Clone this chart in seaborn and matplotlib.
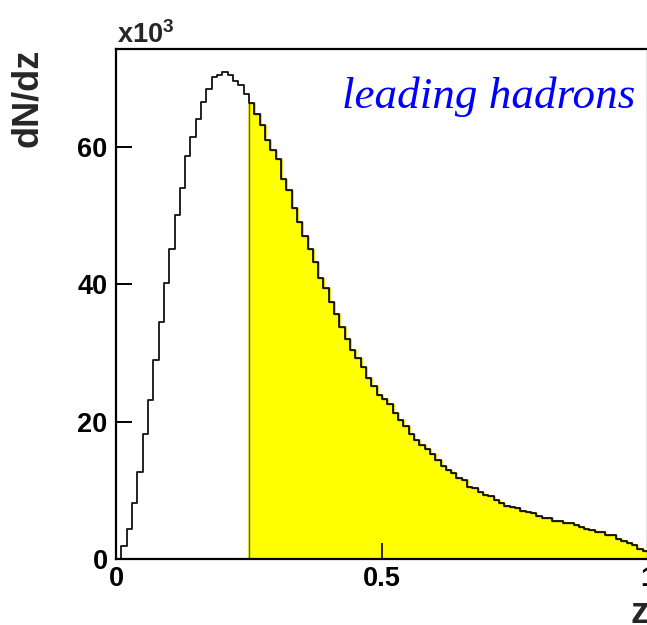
import numpy as np
import pandas as pd
import matplotlib
matplotlib.use("Agg")
import matplotlib.pyplot as plt
import seaborn as sns

# ---- data (dN/dz in units of 10^3, 100 bins of z from 0 to 1) ----
z_min, z_max, n_bins = 0.0, 1.0, 100
z_cut = 0.25
counts = [
    0.0, 1.9, 4.4, 8.1, 12.7, 18.2, 23.1, 29.0, 34.5, 40.2,
    45.1, 50.1, 54.1, 58.7, 61.5, 64.1, 66.6, 68.4, 70.2, 70.5,
    71.0, 70.5, 69.7, 69.0, 67.8, 66.5, 64.9, 63.3, 61.1, 59.6,
    58.3, 55.4, 53.7, 51.2, 49.1, 47.1, 45.1, 43.3, 41.0, 39.5,
    37.5, 35.7, 33.8, 32.1, 30.5, 29.3, 27.9, 26.3, 25.2, 23.9,
    23.3, 22.6, 21.2, 20.2, 19.4, 18.2, 17.4, 16.6, 16.0, 15.3,
    14.4, 13.5, 12.9, 12.5, 11.8, 11.5, 10.5, 10.4, 9.7, 9.3,
    9.2, 8.6, 8.1, 7.7, 7.6, 7.5, 7.0, 6.9, 6.7, 6.3,
    6.0, 6.0, 5.6, 5.6, 5.3, 5.3, 4.9, 4.6, 4.4, 4.2,
    4.0, 4.0, 3.5, 3.5, 2.9, 2.6, 2.4, 2.0, 1.4, 1.2,
]
y_ticks = [0, 20, 40, 60]
y_tick_labels = ["0", "20", "40", "60"]
x_ticks = [0, 0.5, 1]
x_tick_labels = ["0", "0.5", "1"]
title_text = "leading hadrons"

edges = np.linspace(z_min, z_max, n_bins + 1)
centers = 0.5 * (edges[:-1] + edges[1:])
df = pd.DataFrame({"z": centers, "dNdz": counts})
df["tail"] = np.where(df["z"] > z_cut, df["dNdz"], 0.0)
cut_idx = int(np.searchsorted(edges, z_cut - 1e-9))
all_bins = edges.tolist()
tail_bins = edges[cut_idx:].tolist()

sns.set_style("white")
plt.rcParams.update({
    "font.family": ["Liberation Sans", "DejaVu Sans"],
    "font.weight": "bold",
    "mathtext.fontset": "custom",
    "mathtext.rm": "Liberation Sans",
    "mathtext.bf": "Liberation Sans:bold",
    "axes.axisbelow": False,
    "xtick.bottom": True, "ytick.left": True,
    "xtick.top": False, "ytick.right": False,
    "xtick.direction": "in", "ytick.direction": "in",
    "xtick.major.size": 11.5, "ytick.major.size": 11.5,
    "xtick.major.width": 1.2, "ytick.major.width": 1.2,
    "xtick.color": "black", "ytick.color": "black",
})

W, H = 647, 625
fig = plt.figure(figsize=(W / 100, H / 100), dpi=100)
ax_left, ax_right, ax_bottom, ax_top = 116, 648, 559, 49
ax = fig.add_axes([ax_left / W, 1 - ax_bottom / H,
                   (ax_right - ax_left) / W, (ax_bottom - ax_top) / H])

# yellow selected region (zero below the cut)
sns.histplot(data=df, x="z", weights="tail", bins=all_bins, element="step",
             fill=True, color="#ffff00", alpha=1, edgecolor="#ffff00",
             linewidth=2.0, ax=ax)
# gray outline of the selected part (gives the vertical edge at the cut)
sns.histplot(data=df[df["z"] > z_cut], x="z", weights="dNdz",
             bins=tail_bins, element="step", fill=True,
             color="#555555", alpha=0, linewidth=1.0, ax=ax)
# full distribution outline
sns.histplot(data=df, x="z", weights="dNdz", bins=all_bins, element="step",
             fill=False, color="#111111", linewidth=1.3, ax=ax)

ax.set_xlim(z_min, z_max)
ax.set_ylim(0, 74.3)
ax.set_xticks(x_ticks)
ax.set_xticklabels(x_tick_labels)
ax.set_yticks(y_ticks)
ax.set_yticklabels(y_tick_labels)
ax.set_axisbelow(False)
ax.tick_params(axis="both", which="major", direction="in", length=11.5,
               width=1.2, labelsize=19.5, pad=6, colors="black",
               bottom=True, left=True, top=False, right=False)
ax.tick_params(axis="x", pad=5)
for lab in ax.get_xticklabels() + ax.get_yticklabels():
    lab.set_fontweight("bold")
for s in ax.spines.values():
    s.set_linewidth(1.6)
    s.set_color("black")

# inward y tick marks (drawn explicitly at the axis' tick values)
tick_frac = 16 / (ax_right - ax_left)
for t in y_ticks[1:]:
    ax.plot([0, tick_frac], [t, t], transform=ax.get_yaxis_transform(),
            color="black", linewidth=1.2, solid_capstyle="butt",
            clip_on=False, zorder=3)

ax.set_xlabel("z", fontsize=26, fontweight="bold", loc="right")
ax.xaxis.set_label_coords(1.0, -0.072)
ax.set_ylabel("dN/dz", fontsize=26, fontweight="bold", loc="top")
ax.yaxis.set_label_coords(-0.134, 1.0)

ax.text(0.001, 1.0115, r"x10$^{\mathbf{3}}$", transform=ax.transAxes,
        fontsize=19.5, fontweight="bold", ha="left", va="baseline")
ax.text(0.425, 0.884, title_text, transform=ax.transAxes, fontsize=32.5,
        color="#0000ff", style="italic", fontweight="normal",
        family=["Liberation Serif", "DejaVu Serif"], ha="left", va="baseline")

fig.savefig("out.png", dpi=100)
